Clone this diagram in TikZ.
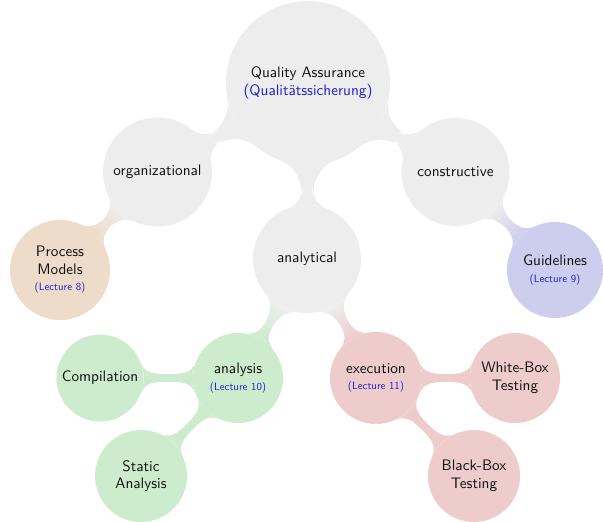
\documentclass[tikz,border=0pt]{standalone}
\usepackage{fontspec}
\setsansfont{lmsans10-regular.otf}
\usetikzlibrary{mindmap}
\definecolor{cgray}{HTML}{EDEDED}
\definecolor{corange}{HTML}{EEDCCA}
\definecolor{cgreen}{HTML}{CDEBCD}
\definecolor{cred}{HTML}{EDCCCB}
\definecolor{cblue}{HTML}{CDCDEE}
\definecolor{ctext}{HTML}{111111}
\definecolor{clink}{HTML}{2020C8}
\newcommand{\lect}[1]{\\[-1pt]{\fontsize{10.8}{12}\selectfont\color{clink}#1}}
\begin{document}
\begin{tikzpicture}[x=1pt,y=-1pt,
  idea/.style={circle, fill=#1, draw=none, inner sep=0pt, align=center, text=ctext,
    font=\sffamily\fontsize{15.2}{17.5}\selectfont},
  bigbar/.style={line width=11pt},
  smallbar/.style={line width=8.5pt}]
\useasboundingbox (0,0) rectangle (603,522);
% level 0
\node[idea=cgray, minimum size=164pt] (qa) at (308,83) {Quality Assurance\\{\color{clink}(Qualitätssicherung)}};
% level 1
\node[idea=cgray, minimum size=109pt] (org) at (157.5,172) {organizational};
\node[idea=cgray, minimum size=108pt] (con) at (455.5,172) {constructive};
\node[idea=cgray, minimum size=108pt] (ana) at (307,259) {analytical};
% level 2
\node[idea=corange, minimum size=100pt] (pm) at (60,270) {Process\\Models\lect{(Lecture 8)}};
\node[idea=cblue, minimum size=96pt] (gl) at (555,270) {Guidelines\lect{(Lecture 9)}};
\node[idea=cgreen, minimum size=90pt] (anl) at (238,378) {analysis\lect{(Lecture 10)}};
\node[idea=cred, minimum size=92pt] (exe) at (376,378) {execution\lect{(Lecture 11)}};
% level 3
\node[idea=cgreen, minimum size=87pt] (comp) at (100,378) {Compilation};
\node[idea=cgreen, minimum size=92pt] (sta) at (141,476) {Static\\Analysis};
\node[idea=cred, minimum size=90pt] (wb) at (515,378) {White-Box\\Testing};
\node[idea=cred, minimum size=92pt] (bb) at (474,476) {Black-Box\\Testing};
% connections
\path[bigbar] (qa) to[circle connection bar switch color=from (cgray) to (cgray)] (org);
\path[bigbar] (qa) to[circle connection bar switch color=from (cgray) to (cgray)] (con);
\path[bigbar] (qa) to[circle connection bar switch color=from (cgray) to (cgray)] (ana);
\path[smallbar] (org) to[circle connection bar switch color=from (cgray) to (corange)] (pm);
\path[smallbar] (con) to[circle connection bar switch color=from (cgray) to (cblue)] (gl);
\path[smallbar] (ana) to[circle connection bar switch color=from (cgray) to (cgreen)] (anl);
\path[smallbar] (ana) to[circle connection bar switch color=from (cgray) to (cred)] (exe);
\path[smallbar] (anl) to[circle connection bar switch color=from (cgreen) to (cgreen)] (comp);
\path[smallbar] (anl) to[circle connection bar switch color=from (cgreen) to (cgreen)] (sta);
\path[smallbar] (exe) to[circle connection bar switch color=from (cred) to (cred)] (wb);
\path[smallbar] (exe) to[circle connection bar switch color=from (cred) to (cred)] (bb);
\end{tikzpicture}
\end{document}
